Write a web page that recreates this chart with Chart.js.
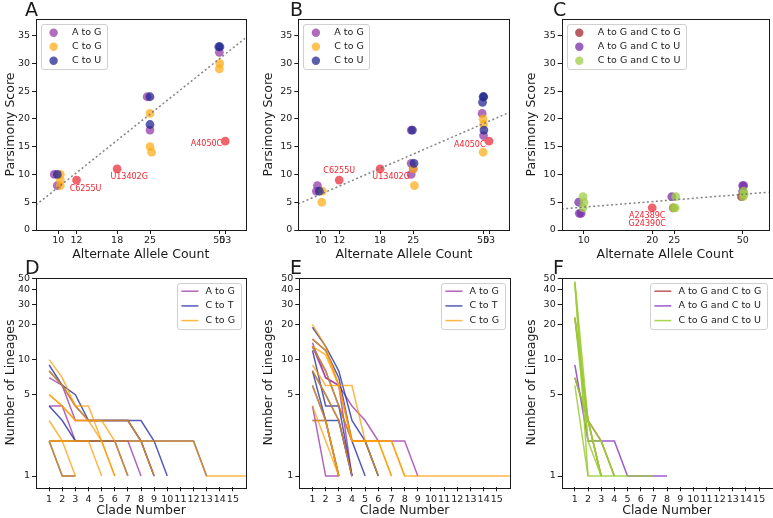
<!DOCTYPE html>
<html>
<head>
<meta charset="utf-8">
<title>Parsimony score and clade lineages</title>
<script src="https://cdn.jsdelivr.net/npm/chart.js@4.4.1/dist/chart.umd.min.js"></script>
<style>
  body { margin: 0; background: #fff; }
  #fig { position: relative; width: 773px; height: 518px; overflow: hidden; }
  #fig canvas { position: absolute; }
  .tag { position: absolute; font-family: 'DejaVu Sans'; font-size: 19px; line-height: 19px; color: #1a1a1a; }
</style>
</head>
<body>
<div id="fig">
  <canvas id="chartA" width="250" height="262" style="left:0px;top:0px"></canvas>
  <canvas id="chartB" width="256" height="262" style="left:258px;top:0px"></canvas>
  <canvas id="chartC" width="252" height="262" style="left:521px;top:0px"></canvas>
  <canvas id="chartD" width="250" height="256" style="left:0px;top:262px"></canvas>
  <canvas id="chartE" width="256" height="256" style="left:258px;top:262px"></canvas>
  <canvas id="chartF" width="252" height="256" style="left:521px;top:262px"></canvas>
  <div class="tag" style="left:25px;top:0px">A</div>
  <div class="tag" style="left:290px;top:0px">B</div>
  <div class="tag" style="left:553px;top:0px">C</div>
  <div class="tag" style="left:25px;top:258px">D</div>
  <div class="tag" style="left:290px;top:258px">E</div>
  <div class="tag" style="left:553px;top:258px">F</div>
</div>
<script>
// ---- data ----

// top row: parsimony score against alternate allele count (log x)
var alleleTicksAB = [10, 12, 18, 25, 50, 53];
var alleleTicksC = [10, 20, 25, 50];
var scoreTicks = [0, 5, 10, 15, 20, 25, 30, 35];

var namesAB = ['A to G', 'C to G', 'C to U'];
var namesC = ['A to G and C to G', 'A to G and C to U', 'C to G and C to U'];

// panel A
var aAtoG = [{x: 9.6, y: 10}, {x: 9.9, y: 8}, {x: 24.3, y: 24}, {x: 25, y: 18}, {x: 50, y: 32}];
var aCtoG = [{x: 10.2, y: 10}, {x: 10.2, y: 9}, {x: 10.2, y: 8}, {x: 25, y: 21}, {x: 25, y: 15}, {x: 25.4, y: 14}, {x: 50.2, y: 30}, {x: 50, y: 29}];
var aCtoU = [{x: 9.9, y: 10}, {x: 25, y: 24}, {x: 25, y: 19}, {x: 49.7, y: 33}, {x: 50.3, y: 33}];
var aNoted = [{x: 12, y: 9}, {x: 18, y: 11}, {x: 53, y: 16}];
var aNoteText = ['C6255U', 'U13402G', 'A4050C'];
var aFit = [{x: 8, y: 4.5}, {x: 65, y: 34.6}];

// panel B
var bAtoG = [{x: 9.67, y: 8}, {x: 9.57, y: 7}, {x: 24.5, y: 18}, {x: 24.5, y: 12}, {x: 25, y: 11}, {x: 24.5, y: 10}, {x: 49.5, y: 21}, {x: 50.2, y: 17}];
var bCtoG = [{x: 10.15, y: 7}, {x: 10.1, y: 5}, {x: 25, y: 11}, {x: 25.3, y: 8}, {x: 50, y: 20}, {x: 50.2, y: 19}, {x: 50, y: 14}];
var bCtoU = [{x: 9.85, y: 7}, {x: 24.8, y: 18}, {x: 25.2, y: 12}, {x: 50, y: 24}, {x: 50.3, y: 24}, {x: 49.7, y: 23}, {x: 50.4, y: 18}];
var bNoted = [{x: 12, y: 9}, {x: 18, y: 11}, {x: 53, y: 16}];
var bNoteText = ['C6255U', 'U13402G', 'A4050C'];
var bFit = [{x: 8, y: 4.7}, {x: 65, y: 21.2}];

// panel C
var cAGCG = [{x: 24.75, y: 4}, {x: 49.4, y: 6}];
var cAGCU = [{x: 9.5, y: 5}, {x: 9.57, y: 3}, {x: 9.74, y: 3}, {x: 24.4, y: 6}, {x: 50, y: 8}, {x: 50.5, y: 8}, {x: 50, y: 7}];
var cCGCU = [{x: 9.93, y: 6}, {x: 10.03, y: 5}, {x: 9.93, y: 4}, {x: 25.4, y: 6}, {x: 24.75, y: 4}, {x: 25.25, y: 4}, {x: 50.5, y: 7}, {x: 50.3, y: 6}, {x: 50.7, y: 6.5}];
var cNoted = [{x: 20, y: 4}];
var cNoteText = ['A24389C\nG24390C'];
var cFit = [{x: 8, y: 3.8}, {x: 65, y: 6.8}];

// bottom row: number of lineages per clade (log y), one array per line
var cladeTicks = [1, 2, 3, 4, 5, 6, 7, 8, 9, 10, 11, 12, 13, 14, 15];
var lineageTicks = [1, 5, 10, 20, 30, 40, 50];
var namesDE = ['A to G', 'C to T', 'C to G'];

var dAtoG = [
  [7, 6, 3, 3, 3, 3, 3, 2, 1],
  [4, 4, 2, 2, 2, 2, 2, 1]
];
var dCtoT = [
  [9, 6, 5, 3, 3, 3, 3, 3, 2, 1],
  [4, 3, 2, 2, 2, 2, 1],
  [8, 6, 4, 3, 3, 3, 3, 2, 1],
  [2, 1, 1],
  [2, 2, 2, 2, 2, 2, 2, 2, 2, 2, 2, 2, 1]
];
var dCtoG = [
  [10, 7, 4, 4, 2, 1],
  [8, 6, 4, 3, 3, 3, 3, 2, 1],
  [5, 4, 3, 3, 3, 2, 1],
  [5, 4, 3, 3, 2, 1],
  [3, 2, 2, 2, 1],
  [2, 2, 1],
  [2, 1, 1],
  [2, 2, 2, 2, 2, 2, 2, 2, 2, 2, 2, 2, 1, 1, 1, 1]
];

var eAtoG = [
  [14, 7, 6, 4, 3, 2, 2, 2, 1],
  [4, 1, 1],
  [13, 7, 6, 1]
];
var eCtoT = [
  [19, 13, 8, 3, 2, 1],
  [15, 12, 7, 2, 1],
  [12, 4, 4, 1],
  [8, 3, 3, 1],
  [8, 5, 3, 1],
  [3, 3, 1],
  [13, 8, 4, 2, 2, 1],
  [6, 3, 1]
];
var eCtoG = [
  [20, 13, 6, 2, 2, 2, 2, 1, 1, 1, 1, 1, 1, 1, 1, 1],
  [13, 11, 6, 6, 2, 2, 2, 1],
  [9, 6, 6, 2, 2, 2, 1],
  [15, 12, 6, 2, 2, 2, 1],
  [8, 5, 3, 1],
  [6, 3, 1],
  [4, 2, 1],
  [3, 3, 1],
  [13, 8, 4, 2, 2, 1]
];

var fAGCG = [[7, 3, 2, 1], [23, 3, 1]];
var fAGCU = [[9, 2, 2, 2, 1, 1, 1, 1]];
var fCGCU = [[46, 1, 1, 1, 1, 1, 1], [47, 3, 1], [23, 2, 1], [7, 3, 2, 1], [6, 1], [23, 3, 1], [45, 2, 2, 1]];

// ---- styling ----
var FONT = "'DejaVu Sans'";
var INK = '#1a1a1a';
var NOTE_RED = '#ee2530';
var FIT_COLOR = 'rgba(110, 110, 110, 0.85)';

var dotColorsAB = ['rgba(150, 60, 165, 0.75)', 'rgba(255, 170, 20, 0.72)', 'rgba(35, 40, 145, 0.75)'];
var dotColorsC = ['rgba(160, 40, 45, 0.75)', 'rgba(120, 45, 170, 0.75)', 'rgba(160, 205, 70, 0.75)'];
var noteDot = 'rgba(235, 50, 60, 0.75)';
var lineColorsDE = ['rgba(160, 60, 170, 0.8)', 'rgba(40, 50, 160, 0.8)', 'rgba(255, 155, 0, 0.72)'];
var lineColorsF = ['rgba(170, 50, 50, 0.8)', 'rgba(130, 50, 200, 0.8)', 'rgba(154, 205, 50, 0.85)'];

Chart.defaults.font.family = FONT;
Chart.defaults.color = INK;

// box around the plot area, like matplotlib spines
var framePlugin = {
  id: 'frame',
  afterDatasetsDraw: function (chart) {
    var a = chart.chartArea, c = chart.ctx;
    c.save();
    c.strokeStyle = INK;
    c.lineWidth = 1;
    c.strokeRect(Math.round(a.left) + 0.5, Math.round(a.top) + 0.5, Math.round(a.right - a.left), Math.round(a.bottom - a.top));
    c.restore();
  }
};

// legend drawn inside the plot area
function boxLegend(items, opts) {
  return {
    id: 'boxLegend',
    afterDatasetsDraw: function (chart) {
      var c = chart.ctx, a = chart.chartArea;
      c.save();
      c.font = '9.5px ' + FONT;
      var textW = 0;
      items.forEach(function (it) { textW = Math.max(textW, c.measureText(it.text).width); });
      var w = opts.textX + textW + opts.padR;
      var h = opts.pad * 2 + opts.rowH * (items.length - 1);
      var x0 = opts.side === 'right' ? a.right - 5 - w : a.left + 5;
      var y0 = a.top + 5;
      c.beginPath();
      c.roundRect(Math.round(x0) + 0.5, Math.round(y0) + 0.5, Math.round(w), Math.round(h), 2.5);
      c.fillStyle = 'rgba(255,255,255,0.8)';
      c.fill();
      c.strokeStyle = '#d0d0d0';
      c.lineWidth = 1;
      c.stroke();
      items.forEach(function (it, i) {
        var y = y0 + opts.pad + i * opts.rowH;
        if (opts.mark === 'dot') {
          c.beginPath();
          c.arc(x0 + 12.6, y, 4.2, 0, Math.PI * 2);
          c.fillStyle = it.color;
          c.fill();
        } else {
          c.beginPath();
          c.moveTo(x0 + 4, y);
          c.lineTo(x0 + 21, y);
          c.strokeStyle = it.color;
          c.lineWidth = 1.5;
          c.stroke();
        }
        c.fillStyle = INK;
        c.textAlign = 'left';
        c.textBaseline = 'middle';
        c.fillText(it.text, x0 + opts.textX, y);
      });
      c.restore();
    }
  };
}

// red names next to the highlighted points
function pointNotes(points, texts, offsets) {
  return {
    id: 'pointNotes',
    afterDatasetsDraw: function (chart) {
      var c = chart.ctx;
      c.save();
      c.font = '8px ' + FONT;
      c.fillStyle = NOTE_RED;
      c.textBaseline = 'middle';
      points.forEach(function (p, i) {
        var px = chart.scales.x.getPixelForValue(p.x);
        var py = chart.scales.y.getPixelForValue(p.y);
        var o = offsets[i];
        c.textAlign = o.align;
        texts[i].split('\n').forEach(function (t, k) {
          c.fillText(t, px + o.dx, py + o.dy + k * 8.3);
        });
      });
      c.restore();
    }
  };
}

function fixedTicks(values) {
  return function (s) {
    s.ticks = values.map(function (v) { return {value: v}; });
  };
}

function axisGrid() {
  return {display: true, drawOnChartArea: false, drawTicks: true, tickLength: 4, color: INK, lineWidth: 1};
}

function tickFont(pad) {
  return {autoSkip: false, maxRotation: 0, minRotation: 0, padding: pad, color: INK,
    font: {family: FONT, size: 9.5}, callback: function (v) { return String(v); }};
}

function axisTitle(text, pad) {
  return {display: true, text: text, color: INK, font: {family: FONT, size: 12.5}, padding: pad};
}

function scatterPanel(id, p) {
  var datasets = [{
    data: p.fit, showLine: true, borderColor: FIT_COLOR, borderWidth: 1.5,
    borderDash: [2, 2.5], pointRadius: 0, fill: false
  }];
  datasets.push({data: p.noted, backgroundColor: noteDot, borderWidth: 0, pointRadius: 4.4});
  // last series first so the first series ends up underneath
  for (var i = p.series.length - 1; i >= 0; i--) {
    datasets.push({data: p.series[i], backgroundColor: p.colors[i], borderWidth: 0, pointRadius: 4.4});
  }
  var items = p.names.map(function (n, i) { return {text: n, color: p.colors[i]}; });

  new Chart(document.getElementById(id).getContext('2d'), {
    type: 'scatter',
    data: {datasets: datasets},
    options: {
      responsive: false, animation: false, devicePixelRatio: 1, events: [],
      layout: {padding: {top: 19, right: p.padRight, left: 0, bottom: 0}},
      plugins: {legend: {display: false}, tooltip: {enabled: false}},
      scales: {
        x: {
          type: 'logarithmic', min: 8, max: 65,
          afterBuildTicks: fixedTicks(p.xTicks),
          afterFit: function (s) { s.height = 32; },
          ticks: tickFont(1), grid: axisGrid(), border: {display: false},
          title: axisTitle('Alternate Allele Count', 0)
        },
        y: {
          type: 'linear', min: 0, max: 38,
          afterBuildTicks: fixedTicks(scoreTicks),
          afterFit: function (s) { s.width = p.yWidth; },
          ticks: tickFont(2), grid: axisGrid(), border: {display: false},
          title: axisTitle('Parsimony Score', {top: 3, bottom: 0})
        }
      }
    },
    plugins: [framePlugin, boxLegend(items, {side: 'left', mark: 'dot', textX: 31, padR: 5, pad: 8.7, rowH: 14}),
      pointNotes(p.noted, p.noteText, p.noteOffsets)]
  });
}

function linesPanel(id, p) {
  var datasets = [];
  for (var i = p.series.length - 1; i >= 0; i--) {
    p.series[i].forEach(function (vals) {
      datasets.push({
        data: vals.map(function (v, k) { return {x: k + 1, y: v}; }),
        showLine: true, borderColor: p.colors[i], borderWidth: 1.5, pointRadius: 0, tension: 0, fill: false
      });
    });
  }
  var items = p.names.map(function (n, i) { return {text: n, color: p.colors[i]}; });

  new Chart(document.getElementById(id).getContext('2d'), {
    type: 'scatter',
    data: {datasets: datasets},
    options: {
      responsive: false, animation: false, devicePixelRatio: 1, events: [],
      layout: {padding: {top: 15.7, right: p.padRight, left: 0, bottom: 0}},
      plugins: {legend: {display: false}, tooltip: {enabled: false}},
      scales: {
        x: {
          type: 'linear', min: 0, max: 16,
          afterBuildTicks: fixedTicks(cladeTicks),
          afterFit: function (s) { s.height = 30.7; },
          ticks: tickFont(3), grid: axisGrid(), border: {display: false},
          title: axisTitle('Clade Number', 0)
        },
        y: {
          type: 'logarithmic', min: 0.8, max: 50.6,
          afterBuildTicks: fixedTicks(lineageTicks),
          afterFit: function (s) { s.width = p.yWidth; },
          ticks: tickFont(2), grid: axisGrid(), border: {display: false},
          title: axisTitle('Number of Lineages', {top: 3, bottom: 0})
        }
      }
    },
    plugins: [framePlugin, boxLegend(items, {side: 'right', mark: 'line', textX: 28, padR: 6, pad: 8.5, rowH: 14.7})]
  });
}

scatterPanel('chartA', {
  series: [aAtoG, aCtoG, aCtoU], names: namesAB, colors: dotColorsAB, xTicks: alleleTicksAB,
  fit: aFit, noted: aNoted, noteText: aNoteText,
  noteOffsets: [{dx: 9, dy: 9, align: 'center'}, {dx: 12, dy: 8, align: 'center'}, {dx: -3, dy: 3, align: 'right'}],
  yWidth: 36, padRight: 4
});

scatterPanel('chartB', {
  series: [bAtoG, bCtoG, bCtoU], names: namesAB, colors: dotColorsAB, xTicks: alleleTicksAB,
  fit: bFit, noted: bNoted, noteText: bNoteText,
  noteOffsets: [{dx: 0, dy: -9, align: 'center'}, {dx: 11, dy: 8, align: 'center'}, {dx: -3.5, dy: 4, align: 'right'}],
  yWidth: 40.3, padRight: 4
});

scatterPanel('chartC', {
  series: [cAGCG, cAGCU, cCGCU], names: namesC, colors: dotColorsC, xTicks: alleleTicksC,
  fit: cFit, noted: cNoted, noteText: cNoteText,
  noteOffsets: [{dx: -5, dy: 7.7, align: 'center'}],
  yWidth: 40.7, padRight: 0.7
});

linesPanel('chartD', {series: [dAtoG, dCtoT, dCtoG], names: namesDE, colors: lineColorsDE, yWidth: 36, padRight: 4});
linesPanel('chartE', {series: [eAtoG, eCtoT, eCtoG], names: namesDE, colors: lineColorsDE, yWidth: 41.3, padRight: 4});
linesPanel('chartF', {series: [fAGCG, fAGCU, fCGCU], names: namesC, colors: lineColorsF, yWidth: 40.7, padRight: 0.7});
</script>
</body>
</html>
